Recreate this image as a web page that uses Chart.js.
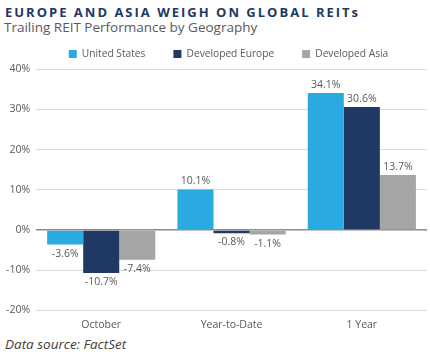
<!DOCTYPE html>
<html><head><meta charset="utf-8">
<script src="https://cdn.jsdelivr.net/npm/chart.js@4"></script>
<style>
html,body{margin:0;padding:0;background:#fff;width:430px;height:352px;overflow:hidden;font-family:"Open Sans",sans-serif;}
#title{position:absolute;left:5px;top:3px;font-weight:bold;font-size:13px;letter-spacing:2px;color:#1f3864;white-space:nowrap;}
#sub{position:absolute;left:4px;top:18px;font-size:13.5px;color:#595959;white-space:nowrap;}
#foot{position:absolute;left:5px;top:335px;font-size:13.5px;font-style:italic;color:#404040;white-space:nowrap;}
#wrap{position:absolute;left:0;top:21px;width:430px;height:310px;}
</style></head><body>
<div id="title">EUROPE AND ASIA WEIGH ON GLOBAL REITs</div>
<div id="sub">Trailing REIT Performance by Geography</div>
<div id="wrap"><canvas id="c"></canvas></div>
<div id="foot">Data source: FactSet</div>
<script>
const categories = ["October", "Year-to-Date", "1 Year"];
const seriesNames = ["United States", "Developed Europe", "Developed Asia"];
const unitedStates = [-3.6, 10.1, 34.1];
const developedEurope = [-10.7, -0.8, 30.6];
const developedAsia = [-7.4, -1.1, 13.7];
const yTicks = {min: -20, max: 40, step: 10};
const colors = ["#29abe2", "#1f3864", "#a5a5a5"];

const labelPlugin = {
  id: 'vlabels',
  afterLayout(chart) {
    const lg = chart.legend;
    if (lg && !lg._shifted) {
      const orig = lg.draw;
      lg.draw = function () {
        const c = this.ctx; c.save(); c.translate(15, 0); orig.apply(this, arguments); c.restore();
      };
      lg._shifted = true;
    }
  },
  afterDatasetsDraw(chart) {
    const ctx = chart.ctx;
    ctx.save();
    ctx.font = '10.5px "Open Sans"';
    ctx.fillStyle = '#595959';
    ctx.textAlign = 'center';
    chart.data.datasets.forEach((ds, i) => {
      const meta = chart.getDatasetMeta(i);
      meta.data.forEach((bar, j) => {
        const v = ds.data[j];
        const txt = v.toFixed(1) + '%';
        if (v >= 0) { ctx.textBaseline = 'bottom'; ctx.fillText(txt, bar.x, bar.y - 3); }
        else { ctx.textBaseline = 'top'; ctx.fillText(txt, bar.x, bar.y + 4); }
      });
    });
    ctx.restore();
  }
};

new Chart(document.getElementById('c'), {
  type: 'bar',
  data: {
    labels: categories,
    datasets: [
      {label: seriesNames[0], data: unitedStates, backgroundColor: colors[0]},
      {label: seriesNames[1], data: developedEurope, backgroundColor: colors[1]},
      {label: seriesNames[2], data: developedAsia, backgroundColor: colors[2]}
    ]
  },
  options: {
    responsive: true, maintainAspectRatio: false, animation: false,
    layout: {padding: {left: 0, right: 3, top: 0, bottom: 0}},
    datasets: {bar: {categoryPercentage: 0.83, barPercentage: 1.0}},
    plugins: {
      legend: {
        position: 'top',
        labels: {boxWidth: 8, boxHeight: 8, color: '#595959', font: {family: 'Open Sans', size: 10.2}, padding: 28}
      },
      tooltip: {enabled: false}
    },
    scales: {
      x: {
        grid: {display: false},
        border: {display: false},
        ticks: {color: '#595959', font: {family: 'Open Sans', size: 10.5}, padding: 0}
      },
      y: {
        min: yTicks.min, max: yTicks.max,
        ticks: {stepSize: yTicks.step, color: '#595959', font: {family: 'Open Sans', size: 10.5}, padding: 6,
          callback: v => v + '%'},
        border: {display: false},
        grid: {
          drawTicks: false,
          color: ctx => ctx.tick && ctx.tick.value === 0 ? '#8c8c8c' : '#d9d9d9',
          lineWidth: ctx => ctx.tick && ctx.tick.value === 0 ? 1.5 : 1
        }
      }
    }
  },
  plugins: [labelPlugin]
});
</script>
</body></html>
